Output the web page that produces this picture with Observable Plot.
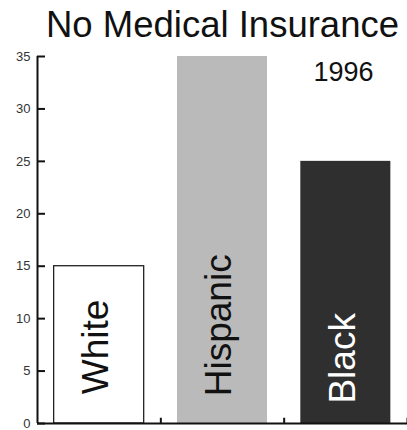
<!DOCTYPE html>
<html>
<head>
<meta charset="utf-8">
<script src="https://cdn.jsdelivr.net/npm/d3@7"></script>
<script src="https://cdn.jsdelivr.net/npm/@observablehq/plot@0.6"></script>
<style>
  html, body { margin: 0; padding: 0; background: #fff; }
  #chart svg { display: block; }
</style>
</head>
<body>
<div id="chart"></div>
<script>
// Data
const categories = ["White", "Hispanic", "Black"];
const positions = [1, 2, 3];
const values = [15, 35, 25];
const fills = ["#ffffff", "#bababa", "#2f2f2f"];
const labelColors = ["#111111", "#111111", "#ffffff"];
const labelBase = [2.8, 2.6, 1.9];
const yTicks = [0, 5, 10, 15, 20, 25, 30, 35];
const xTicks = [1.5, 2.5, 3.5];
const title = "No Medical Insurance";
const yearLabel = "1996";
const halfWidth = 0.365;

const data = categories.map((c, i) => ({
  category: c, x: positions[i], value: values[i],
  fill: fills[i], labelColor: labelColors[i], labelY: labelBase[i]
}));

const chart = Plot.plot({
  width: 407,
  height: 430,
  marginLeft: 37,
  marginRight: 0,
  marginTop: 56,
  marginBottom: 7,
  style: { fontFamily: "'Liberation Sans', Arial, Helvetica, sans-serif", background: "#fff" },
  x: { domain: [0.5, 3.5], axis: null },
  y: { domain: [0, 35], axis: null },
  marks: [
    Plot.rectY(data, {
      x1: d => d.x - halfWidth, x2: d => d.x + halfWidth,
      y1: 0, y2: "value",
      fill: d => d.fill,
      stroke: d => d.category === "White" ? "#222" : "none",
      strokeWidth: 1.3
    }),
    Plot.text(data, {
      x: "x", y: "labelY", text: "category",
      rotate: -90, textAnchor: "start", lineAnchor: "middle",
      dx: -3,
      fill: d => d.labelColor, fontSize: 37
    }),
    // axes lines
    Plot.ruleX([0.5], { y1: 0, y2: 35, stroke: "#111", strokeWidth: 2 }),
    Plot.ruleY([0], { x1: 0.5, x2: 3.5, stroke: "#111", strokeWidth: 2 }),
    // left ticks (inward)
    Plot.ruleY(yTicks, { y: d => d, x1: 0.5, x2: 0.565, stroke: "#111", strokeWidth: 2 }),
    // left labels
    Plot.text(yTicks, {
      x: 0.5, y: d => d, text: d => String(d),
      textAnchor: "end", dx: -7, fontSize: 13, fill: "#333"
    }),
    // bottom ticks (inward)
    Plot.ruleX(xTicks, { x: d => d, y1: 0, y2: 0.5, stroke: "#111", strokeWidth: 2 }),
    // title
    Plot.text([title], {
      frameAnchor: "top", text: d => d, dy: -20, lineAnchor: "bottom",
      fontSize: 36.5, fill: "#111"
    }),
    Plot.text([yearLabel], {
      frameAnchor: "top-right", text: d => d, dx: -34, dy: 24, lineAnchor: "bottom",
      fontSize: 27, fill: "#111"
    })
  ]
});
document.getElementById("chart").appendChild(chart);
</script>
</body>
</html>
